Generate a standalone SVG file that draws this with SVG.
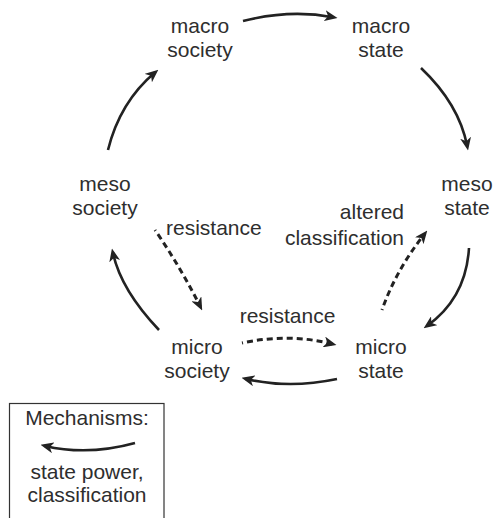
<svg xmlns="http://www.w3.org/2000/svg" width="496" height="518" viewBox="0 0 496 518">
  <style>
    text { font-family: "Liberation Sans", Arial, sans-serif; font-size: 21px; fill: #2e2e2e; }
    .c { text-anchor: middle; }
    .e { text-anchor: end; }
    .edge { fill: none; stroke: #222; stroke-width: 2.6; }
    .solid { marker-end: url(#head); }
    .dash { stroke-width: 3; stroke-dasharray: 6 4; stroke-dashoffset: 5; marker-end: url(#head); }
  </style>
  <defs>
    <marker id="head" viewBox="0 0 13 11" markerWidth="13" markerHeight="11" markerUnits="userSpaceOnUse" refX="8.5" refY="5.5" orient="auto">
      <path d="M0,0 L13,5.5 L0,11 L3.5,5.5 Z" fill="#222"/>
    </marker>
  </defs>

  <rect width="496" height="518" fill="#fff"/>

  <g id="macro-society"><text class="c" x="200" y="33">macro</text><text class="c" x="200" y="57">society</text></g>
  <g id="macro-state"><text class="c" x="381" y="33">macro</text><text class="c" x="381" y="57">state</text></g>
  <g id="meso-society"><text class="c" x="105" y="191">meso</text><text class="c" x="105" y="215">society</text></g>
  <g id="meso-state"><text class="c" x="467" y="191">meso</text><text class="c" x="467" y="215">state</text></g>
  <g id="micro-society"><text class="c" x="197" y="354">micro</text><text class="c" x="197" y="378">society</text></g>
  <g id="micro-state"><text class="c" x="381" y="354">micro</text><text class="c" x="381" y="378">state</text></g>

  <g id="connectors">
    <path class="edge solid" d="M243,21 Q290,9 333.1,17.2"/>
    <path class="edge solid" d="M421,68 Q459,104 467.2,146.1"/>
    <path class="edge solid" d="M469,248 Q466,298 427.3,325.7"/>
    <path class="edge solid" d="M337,379 Q289,389 245.9,378.9"/>
    <path class="edge solid" d="M159,330 Q121,290 112.9,252.9"/>
    <path class="edge solid" d="M108,150 Q120,102 154.9,72.6"/>
    <path class="edge dash" d="M155,230 Q181,268 200.2,306.4"/>
    <path class="edge dash" d="M242,343 Q289,333 332.1,344"/>
    <path class="edge dash" d="M382,310 Q396,270 424.5,234.1"/>
  </g>

  <g id="edge-labels">
    <text x="166" y="235">resistance</text>
    <text class="c" x="287.5" y="323">resistance</text>
    <text class="e" x="404" y="219">altered</text>
    <text class="e" x="404" y="245">classification</text>
  </g>

  <g id="legend">
    <rect x="9.5" y="403.5" width="154.5" height="130" fill="none" stroke="#333" stroke-width="1.2"/>
    <text class="c" x="87" y="425">Mechanisms:</text>
    <path class="edge solid" d="M135,443 Q88,456 44.9,445.9"/>
    <text class="c" x="87" y="479">state power,</text>
    <text class="c" x="87" y="502">classification</text>
  </g>
</svg>
